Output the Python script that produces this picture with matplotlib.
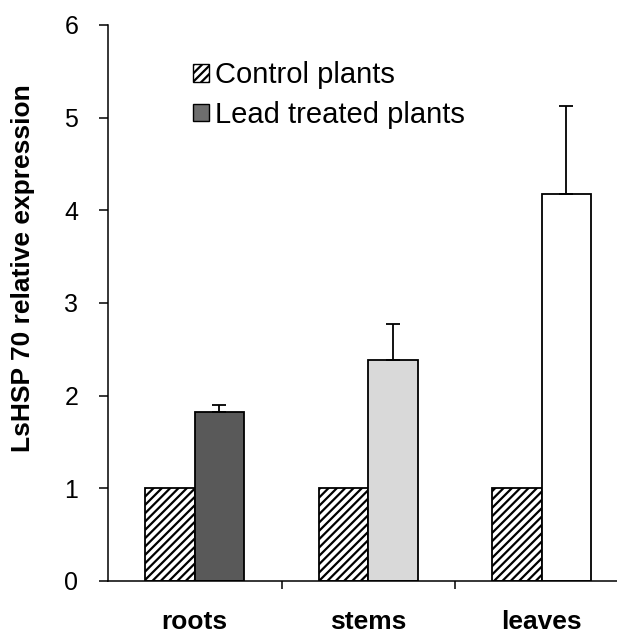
import matplotlib
matplotlib.use("Agg")
import matplotlib.pyplot as plt
from matplotlib.patches import Patch
import numpy as np

plt.rcParams['font.family'] = ['Liberation Sans', 'DejaVu Sans']

categories = ["roots", "stems", "leaves"]
control = [1.0, 1.0, 1.0]
lead = [1.82, 2.38, 4.18]
lead_err = [0.08, 0.39, 0.95]
lead_colors = ["#595959", "#d9d9d9", "#ffffff"]
legend_labels = ["Control plants", "Lead treated plants"]
ylabel = "LsHSP 70 relative expression"

fig = plt.figure(figsize=(6.17, 6.4), dpi=100)
ax = fig.add_axes([108/617, 59/640, 520.5/617, 556/640])

x = np.arange(len(categories))
w = 0.285
plt.rcParams['hatch.linewidth'] = 1.6
ax.bar(x - w/2, control, width=w, facecolor="white", edgecolor="black",
       linewidth=1.3, hatch="////", zorder=2)
ax.bar(x + w/2, lead, width=w, color=lead_colors, edgecolor="black",
       linewidth=1.3, zorder=2)
ax.errorbar(x + w/2, lead, yerr=[np.zeros(len(lead)), lead_err], fmt="none",
            ecolor="black", elinewidth=1.3, capsize=5, capthick=1.3, zorder=3)

ax.set_xlim(-0.5, 2.5)
ax.set_ylim(0, 6)
ax.set_yticks(range(0, 7))
ax.tick_params(axis='y', direction='out', length=6.5, width=1.1, labelsize=18, pad=15)
ax.set_xticks(x)
ax.set_xticklabels(categories, fontsize=19, fontweight='bold')
ax.tick_params(axis='x', which='major', length=0, pad=21)
ax.set_xticks([0.5, 1.5], minor=True)
ax.tick_params(axis='x', which='minor', direction='out', length=6, width=1.1)

for s in ['top', 'right']:
    ax.spines[s].set_visible(False)
for s in ['left', 'bottom']:
    ax.spines[s].set_linewidth(1.1)

fig.text(23/617, 1 - 268/640, ylabel, rotation=90, ha='center', va='center',
         fontsize=19, fontweight='bold')

handles = [Patch(facecolor='white', edgecolor='black', hatch='////', linewidth=1.0),
           Patch(facecolor='#6e6e6e', edgecolor='black', linewidth=1.0)]
ax.legend(handles, legend_labels, loc='center left',
          bbox_to_anchor=((193 - 108) / 520.5, (581 - 95) / 556),
          frameon=False, fontsize=21, handlelength=0.55, handleheight=0.55,
          handletextpad=0.2, labelspacing=0.4, borderaxespad=0, borderpad=0)

fig.savefig("out.png", dpi=100)
